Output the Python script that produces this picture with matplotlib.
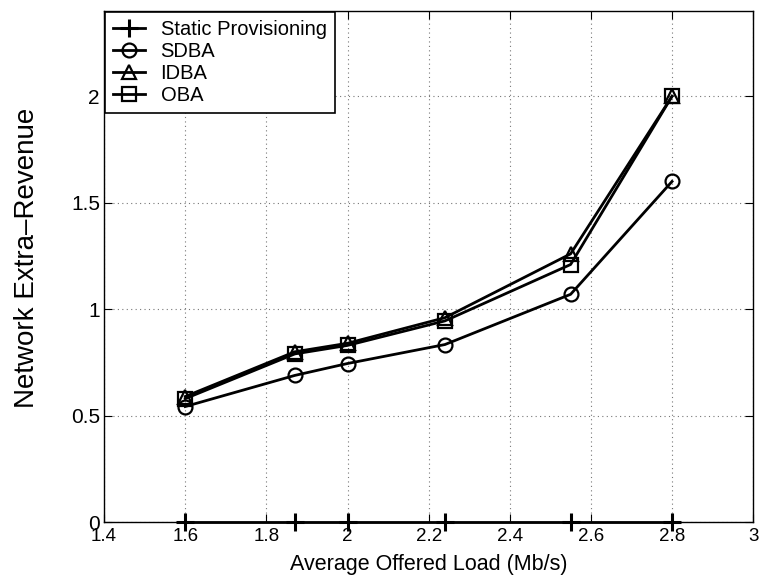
import matplotlib
matplotlib.use('Agg')
import matplotlib.pyplot as plt

plt.rcParams['font.family'] = ['Liberation Sans', 'DejaVu Sans']

load = [1.6, 1.87, 2.0, 2.24, 2.55, 2.8]
static = [0, 0, 0, 0, 0, 0]
sdba = [0.543, 0.689, 0.745, 0.834, 1.07, 1.60]
idba = [0.59, 0.80, 0.84, 0.96, 1.26, 2.0]
oba = [0.58, 0.79, 0.83, 0.945, 1.21, 2.0]

xticks = [1.4, 1.6, 1.8, 2, 2.2, 2.4, 2.6, 2.8, 3]
xtick_labels = ['1.4', '1.6', '1.8', '2', '2.2', '2.4', '2.6', '2.8', '3']
yticks = [0, 0.5, 1, 1.5, 2]
ytick_labels = ['0', '0.5', '1', '1.5', '2']

fig = plt.figure(figsize=(7.6, 5.86), dpi=100)
ax = fig.add_axes([0.137, 0.109, 0.854, 0.872])

kw = dict(color='k', linewidth=2, markersize=10, markerfacecolor='none', markeredgewidth=1.6)
ax.plot(load, static, marker='+', label='Static Provisioning', clip_on=False,
        **dict(kw, markersize=13, markeredgewidth=2.2))
ax.plot(load, sdba, marker='o', label='SDBA', **kw)
ax.plot(load, idba, marker='^', label='IDBA', **kw)
ax.plot(load, oba, marker='s', label='OBA', **kw)

ax.set_xlim(1.4, 3)
ax.set_ylim(0, 2.4)
ax.set_xticks(xticks)
ax.set_xticklabels(xtick_labels, fontsize=13.5)
ax.set_yticks(yticks)
ax.set_yticklabels(ytick_labels, fontsize=15)
ax.grid(True, linestyle=(0, (1, 3)), color='#777777', linewidth=0.8)
ax.tick_params(direction='in', top=True, right=True, length=6)
ax.tick_params(axis='x', pad=4)
ax.tick_params(axis='y', pad=3)
for s in ax.spines.values():
    s.set_linewidth(1)

ax.set_xlabel('Average Offered Load (Mb/s)', fontsize=15.5, labelpad=7)
ax.set_ylabel('Network Extra\u2013Revenue', fontsize=20)
ax.yaxis.set_label_coords(-0.099, 0.517)

leg = ax.legend(loc='upper left', fontsize=14.5, fancybox=False, framealpha=1,
                edgecolor='k', borderaxespad=0.05, handlelength=1.6,
                labelspacing=0.15, borderpad=0.4, handletextpad=0.75)
leg.get_frame().set_linewidth(1.2)

fig.savefig('out.png', dpi=100)
